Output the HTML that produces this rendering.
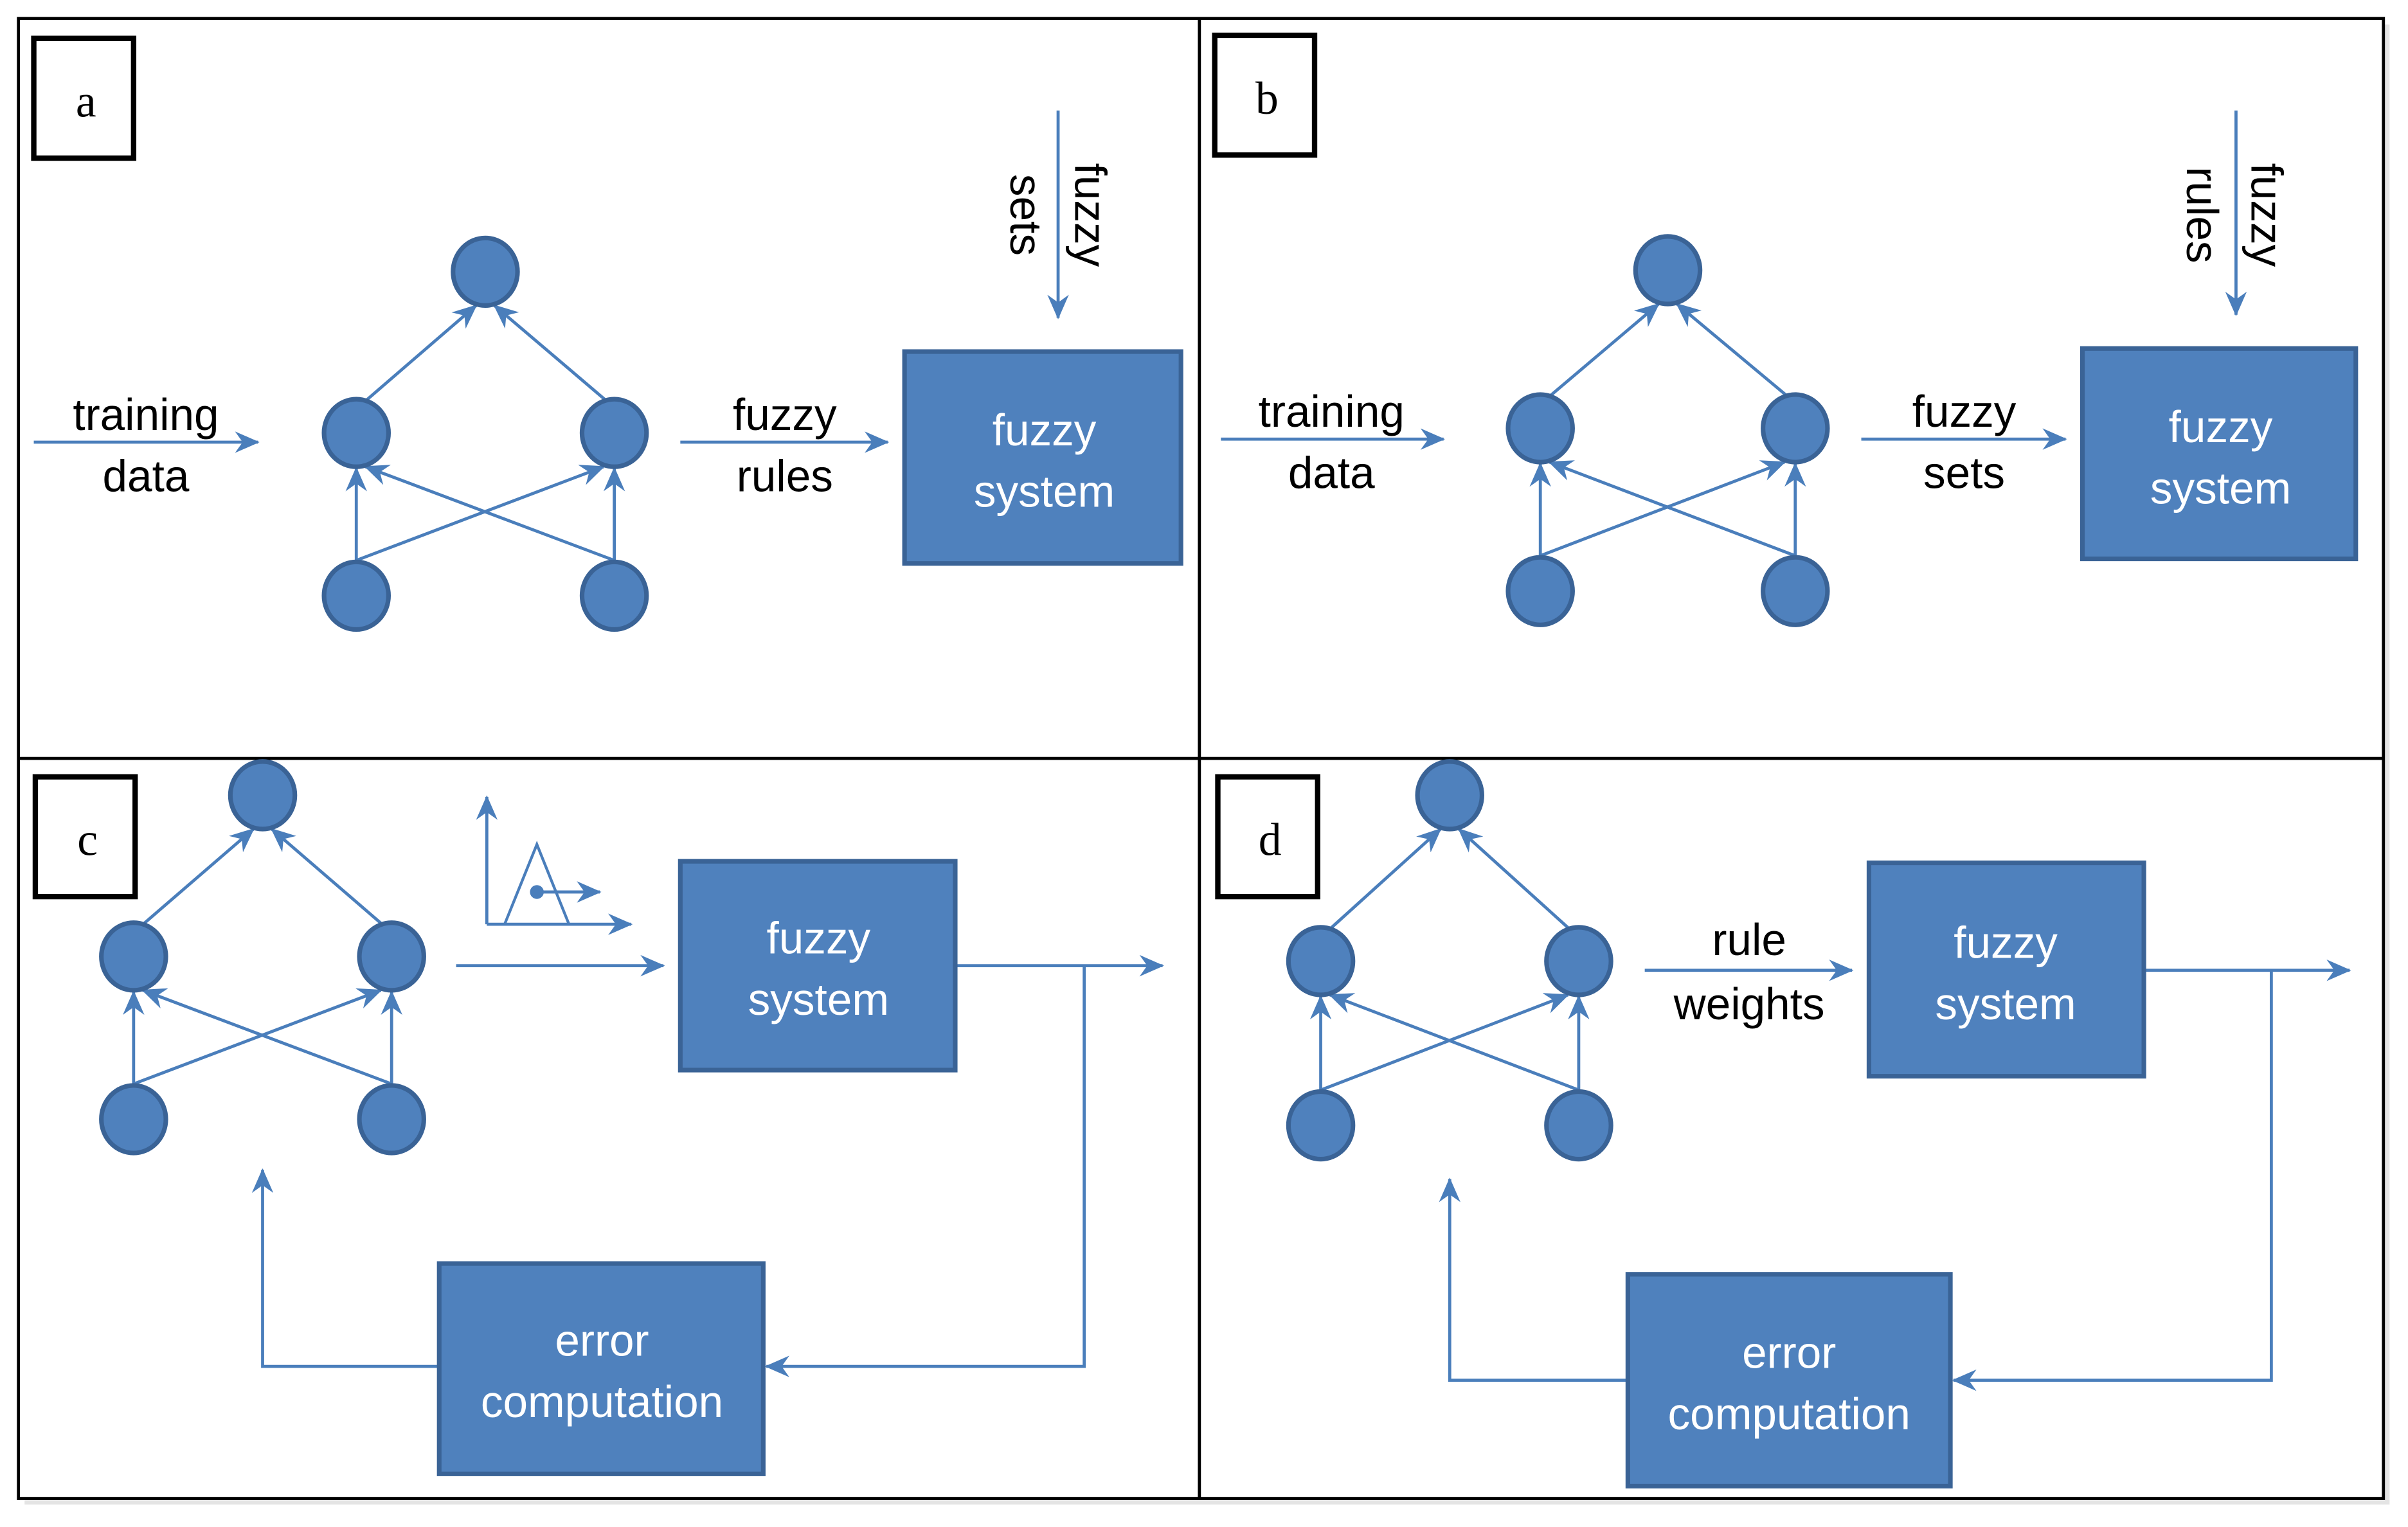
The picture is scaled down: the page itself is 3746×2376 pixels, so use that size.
<!DOCTYPE html>
<html><head><meta charset="utf-8"><style>
html,body{margin:0;padding:0;background:#fff;}
svg{display:block;}
text{font-family:"Liberation Sans",sans-serif;}
</style></head><body>
<svg width="3746" height="2376" viewBox="0 0 1568 994.6" preserveAspectRatio="none" xmlns="http://www.w3.org/2000/svg">
<defs>
<marker id="ah" viewBox="0 0 16 14" refX="15" refY="7" markerWidth="16" markerHeight="14" orient="auto" markerUnits="userSpaceOnUse">
<path d="M0,0 L16,7 L0,14 L5,7 Z" fill="#4a7ebb"/>
</marker>
</defs>
<rect x="0" y="0" width="1568" height="994.6" fill="#fff"/>
<rect x="16" y="16" width="1540" height="964" fill="#e4e4e4"/>
<rect x="12" y="12" width="1540" height="964" fill="#fff" stroke="#000" stroke-width="2"/>
<line x1="781" y1="12" x2="781" y2="976" stroke="#000" stroke-width="2"/>
<line x1="12" y1="494" x2="1552" y2="494" stroke="#000" stroke-width="2"/>

<g stroke="#000" stroke-width="3.5" fill="#fff">
<rect x="22" y="25" width="65" height="78"/>
<rect x="791" y="23" width="65" height="78"/>
<rect x="23" y="506" width="65" height="78"/>
<rect x="793" y="506" width="65" height="78"/>
</g>
<g font-size="30" text-anchor="middle" fill="#000">
<text x="56" y="76" style="font-family:'Liberation Serif',serif">a</text>
<text x="825" y="74" style="font-family:'Liberation Serif',serif">b</text>
<text x="57" y="557" style="font-family:'Liberation Serif',serif">c</text>
<text x="827" y="557" style="font-family:'Liberation Serif',serif">d</text>
</g>

<g stroke="#4a7ebb" stroke-width="2" fill="none">
<line x1="22" y1="288" x2="168" y2="288" marker-end="url(#ah)"/>
<line x1="443" y1="288" x2="578" y2="288" marker-end="url(#ah)"/>
<line x1="689" y1="72" x2="689" y2="207" marker-end="url(#ah)"/>
<line x1="237" y1="262" x2="310" y2="199" marker-end="url(#ah)"/>
<line x1="396" y1="262" x2="322" y2="199" marker-end="url(#ah)"/>
<line x1="232" y1="365" x2="232" y2="305" marker-end="url(#ah)"/>
<line x1="400" y1="365" x2="400" y2="305" marker-end="url(#ah)"/>
<line x1="232" y1="365" x2="393" y2="304" marker-end="url(#ah)"/>
<line x1="400" y1="365" x2="238" y2="304" marker-end="url(#ah)"/>
<line x1="795" y1="286" x2="940" y2="286" marker-end="url(#ah)"/>
<line x1="1212" y1="286" x2="1345" y2="286" marker-end="url(#ah)"/>
<line x1="1456" y1="72" x2="1456" y2="205" marker-end="url(#ah)"/>
<line x1="1008" y1="259" x2="1080" y2="198" marker-end="url(#ah)"/>
<line x1="1165" y1="259" x2="1092" y2="198" marker-end="url(#ah)"/>
<line x1="1003" y1="362" x2="1003" y2="302" marker-end="url(#ah)"/>
<line x1="1169" y1="362" x2="1169" y2="302" marker-end="url(#ah)"/>
<line x1="1003" y1="362" x2="1162" y2="301" marker-end="url(#ah)"/>
<line x1="1169" y1="362" x2="1009" y2="301" marker-end="url(#ah)"/>
<line x1="92" y1="603" x2="165" y2="540" marker-end="url(#ah)"/>
<line x1="250" y1="603" x2="177" y2="540" marker-end="url(#ah)"/>
<line x1="87" y1="706" x2="87" y2="646" marker-end="url(#ah)"/>
<line x1="255" y1="706" x2="255" y2="646" marker-end="url(#ah)"/>
<line x1="87" y1="706" x2="248" y2="645" marker-end="url(#ah)"/>
<line x1="255" y1="706" x2="93" y2="645" marker-end="url(#ah)"/>
<line x1="297" y1="629" x2="432" y2="629" marker-end="url(#ah)"/>
<line x1="622" y1="629" x2="757" y2="629" marker-end="url(#ah)"/>
<polyline points="706,629 706,890 499,890" marker-end="url(#ah)"/>
<polyline points="286,890 171,890 171,762" marker-end="url(#ah)"/>
<line x1="317" y1="602" x2="317" y2="519" marker-end="url(#ah)"/>
<line x1="317" y1="602" x2="411" y2="602" marker-end="url(#ah)"/>
<polyline points="328.6,602 349.6,550 370.5,602" stroke-width="1.8"/>
<line x1="349.6" y1="581" x2="390.6" y2="581" marker-end="url(#ah)"/>
<line x1="865" y1="606" x2="938" y2="540" marker-end="url(#ah)"/>
<line x1="1023" y1="606" x2="950" y2="540" marker-end="url(#ah)"/>
<line x1="860" y1="710" x2="860" y2="649" marker-end="url(#ah)"/>
<line x1="1028" y1="710" x2="1028" y2="649" marker-end="url(#ah)"/>
<line x1="860" y1="710" x2="1021" y2="648" marker-end="url(#ah)"/>
<line x1="1028" y1="710" x2="866" y2="648" marker-end="url(#ah)"/>
<line x1="1071" y1="632" x2="1206" y2="632" marker-end="url(#ah)"/>
<line x1="1396" y1="632" x2="1530" y2="632" marker-end="url(#ah)"/>
<polyline points="1479,632 1479,899 1272,899" marker-end="url(#ah)"/>
<polyline points="1060,899 944,899 944,768" marker-end="url(#ah)"/>
</g>
<circle cx="349.6" cy="581" r="4.5" fill="#4a7ebb"/>

<g fill="#4f81bd" stroke="#3a6396" stroke-width="3">
<ellipse cx="316" cy="177" rx="21" ry="22"/>
<ellipse cx="232" cy="282" rx="21" ry="22"/>
<ellipse cx="400" cy="282" rx="21" ry="22"/>
<ellipse cx="232" cy="388" rx="21" ry="22"/>
<ellipse cx="400" cy="388" rx="21" ry="22"/>
<ellipse cx="1086" cy="176" rx="21" ry="22"/>
<ellipse cx="1003" cy="279" rx="21" ry="22"/>
<ellipse cx="1169" cy="279" rx="21" ry="22"/>
<ellipse cx="1003" cy="385" rx="21" ry="22"/>
<ellipse cx="1169" cy="385" rx="21" ry="22"/>
<ellipse cx="171" cy="518" rx="21" ry="22"/>
<ellipse cx="87" cy="623" rx="21" ry="22"/>
<ellipse cx="255" cy="623" rx="21" ry="22"/>
<ellipse cx="87" cy="729" rx="21" ry="22"/>
<ellipse cx="255" cy="729" rx="21" ry="22"/>
<ellipse cx="944" cy="518" rx="21" ry="22"/>
<ellipse cx="860" cy="626" rx="21" ry="22"/>
<ellipse cx="1028" cy="626" rx="21" ry="22"/>
<ellipse cx="860" cy="733" rx="21" ry="22"/>
<ellipse cx="1028" cy="733" rx="21" ry="22"/>
<rect x="589" y="229" width="180" height="138"/>
<rect x="1356" y="227" width="178" height="137"/>
<rect x="443" y="561" width="179" height="136"/>
<rect x="286" y="823" width="211" height="137"/>
<rect x="1217" y="562" width="179" height="139"/>
<rect x="1060" y="830" width="210" height="138"/>
</g>

<g font-size="29" text-anchor="middle" fill="#fff">
<text x="680" y="290">fuzzy</text><text x="680" y="330">system</text>
<text x="1446" y="288">fuzzy</text><text x="1446" y="328">system</text>
<text x="533" y="621">fuzzy</text><text x="533" y="661">system</text>
<text x="392" y="883">error</text><text x="392" y="923">computation</text>
<text x="1306" y="624">fuzzy</text><text x="1306" y="664">system</text>
<text x="1165" y="891">error</text><text x="1165" y="931">computation</text>
</g>
<g font-size="29" text-anchor="middle" fill="#000">
<text x="95" y="280">training</text><text x="95" y="320">data</text>
<text x="511" y="280">fuzzy</text><text x="511" y="320">rules</text>
<text x="867" y="278">training</text><text x="867" y="318">data</text>
<text x="1279" y="278">fuzzy</text><text x="1279" y="318">sets</text>
<text x="1139" y="622">rule</text><text x="1139" y="664">weights</text>
<text transform="translate(700,140) rotate(90)">fuzzy</text>
<text transform="translate(658,140) rotate(90)">sets</text>
<text transform="translate(1466,140) rotate(90)">fuzzy</text>
<text transform="translate(1424,140) rotate(90)">rules</text>
</g>
</svg>
</body></html>
